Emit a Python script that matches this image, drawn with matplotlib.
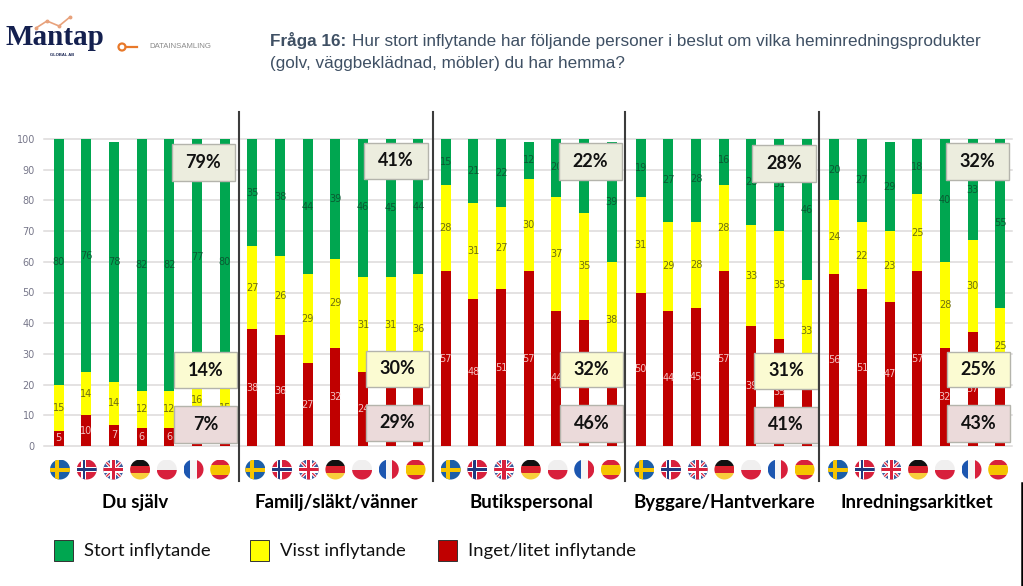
import matplotlib
matplotlib.use("Agg")
import matplotlib.pyplot as plt
from matplotlib.patches import Circle, Rectangle

W, H = 1023, 586

groups = ["Du själv", "Familj/släkt/vänner", "Butikspersonal", "Byggare/Hantverkare", "Inredningsarkitket"]
countries = ["se", "no", "gb", "de", "pl", "fr", "es"]
series_names = ["Stort inflytande", "Visst inflytande", "Inget/litet inflytande"]

stort = [
    [80, 76, 78, 82, 82, 77, 80],
    [35, 38, 44, 39, 46, 45, 44],
    [15, 21, 22, 12, 20, 24, 39],
    [19, 27, 28, 16, 28, 31, 46],
    [20, 27, 29, 18, 40, 33, 55],
]
visst = [
    [15, 14, 14, 12, 12, 16, 15],
    [27, 26, 29, 29, 31, 31, 36],
    [28, 31, 27, 30, 37, 35, 38],
    [31, 29, 28, 28, 33, 35, 33],
    [24, 22, 23, 25, 28, 30, 25],
]
inget = [
    [5, 10, 7, 6, 6, 7, 5],
    [38, 36, 27, 32, 24, 24, 20],
    [57, 48, 51, 57, 44, 41, 22],
    [50, 44, 45, 57, 39, 35, 21],
    [56, 51, 47, 57, 32, 37, 20],
]
avg_stort = ["79%", "41%", "22%", "28%", "32%"]
avg_visst = ["14%", "30%", "32%", "31%", "25%"]
avg_inget = ["7%", "29%", "46%", "41%", "43%"]

GREEN, YELLOW, RED = "#00a650", "#ffff00", "#c00000"

# pixel layout
panel_edges = [44, 239, 433, 625, 819, 1012]
first_bar = [58.7, 252.3, 445.7, 640.7, 834.3]
first_flag = [60, 255.3, 450.7, 644.3, 838]
label_x = [135, 336, 531, 724, 917]
bar_step = 27.67
flag_step = 26.7
y100, y0 = 139, 446
box_x = [(172, 235, 174, 237), (364, 428, 366, 429), (559, 622, 560, 623),
         (752, 816, 754, 818), (946, 1009, 947, 1010)]
box_y = [(144, 181, 352, 388, 406, 443), (143, 179, 351, 387, 405, 441), (143, 180, 352, 387, 405, 442),
         (145, 182, 353, 389, 407, 443), (143, 180, 352, 387, 405, 442)]


def covered(g, i, value):
    # labels that sit behind the summary boxes are not visible in the chart
    px = first_bar[g] + i * bar_step
    py = y0 - value * (y0 - y100) / 100
    xa, xb, xc, xd = box_x[g]
    ya, yb, yc, yd, ye, yf = box_y[g]
    if xa < px < xb and ya + 3 < py < yb - 3:
        return True
    if xc < px < xd and (yc + 3 < py < yd - 3 or ye + 3 < py < yf - 3):
        return True
    return False


fig = plt.figure(figsize=(W / 100, H / 100), dpi=100)

for g in range(5):
    left, right = panel_edges[g], panel_edges[g + 1]
    ax = fig.add_axes([left / W, 1 - y0 / H, (right - left) / W, (y0 - y100) / H])
    ax.set_xlim((left - first_bar[g]) / bar_step, (right - first_bar[g]) / bar_step)
    ax.set_ylim(0, 100)
    for s in ax.spines.values():
        s.set_visible(False)
    ax.set_xticks([])
    ax.set_yticks(range(0, 101, 10))
    ax.grid(axis="y", color="#dcdada", lw=1.1)
    ax.set_axisbelow(True)
    for line in ax.get_ygridlines():
        line.set_clip_on(False)
    ax.tick_params(axis="y", length=0, pad=6.5, labelsize=7, labelcolor="#77778a")
    if g > 0:
        ax.tick_params(axis="y", labelleft=False)

    xs = range(7)
    ax.bar(xs, inget[g], width=0.37, color=RED)
    ax.bar(xs, visst[g], width=0.37, bottom=inget[g], color=YELLOW)
    bottoms = [a + b for a, b in zip(inget[g], visst[g])]
    ax.bar(xs, stort[g], width=0.37, bottom=bottoms, color=GREEN)
    for i in xs:
        mids = [inget[g][i] / 2, inget[g][i] + visst[g][i] / 2, bottoms[i] + stort[g][i] / 2]
        vals = [inget[g][i], visst[g][i], stort[g][i]]
        cols = ["#f3c4c4", "#6f6f10", "#0b5a33"]
        for m, v, c in zip(mids, vals, cols):
            if not covered(g, i, m):
                ax.text(i, m, str(v), ha="center", va="center", fontsize=7, color=c)

# everything else sits on a pixel-coordinate overlay
ov = fig.add_axes([0, 0, 1, 1], zorder=10)
ov.set_xlim(0, W)
ov.set_ylim(H, 0)
ov.axis("off")
ov.patch.set_alpha(0)


def flag(cx, cy, r, code):
    clip = Circle((cx, cy), r, transform=ov.transData)
    parts = []

    def rect(x0, y0, x1, y1, col):
        parts.append(Rectangle((cx + x0 * r, cy + y0 * r), (x1 - x0) * r, (y1 - y0) * r, fc=col, ec="none"))

    if code == "se":
        rect(-1, -1, 1, 1, "#1c5fa8")
        rect(-0.5, -1, -0.12, 1, "#f5c400")
        rect(-1, -0.2, 1, 0.2, "#f5c400")
    elif code == "no":
        rect(-1, -1, 1, 1, "#d8203c")
        rect(-0.55, -1, -0.05, 1, "white")
        rect(-1, -0.25, 1, 0.25, "white")
        rect(-0.42, -1, -0.18, 1, "#20397f")
        rect(-1, -0.12, 1, 0.12, "#20397f")
    elif code == "gb":
        rect(-1, -1, 1, 1, "#3d5a9c")
        for sign in (1, -1):
            ov.plot([cx - r, cx + r], [cy - sign * r, cy + sign * r], color="white", lw=2.4,
                    clip_path=clip, zorder=4)
            ov.plot([cx - r, cx + r], [cy - sign * r, cy + sign * r], color="#d8203c", lw=0.9,
                    clip_path=clip, zorder=4)
        cross = [
            Rectangle((cx - 0.3 * r, cy - r), 0.6 * r, 2 * r, fc="white", ec="none", zorder=5),
            Rectangle((cx - r, cy - 0.3 * r), 2 * r, 0.6 * r, fc="white", ec="none", zorder=5),
            Rectangle((cx - 0.16 * r, cy - r), 0.32 * r, 2 * r, fc="#d8203c", ec="none", zorder=6),
            Rectangle((cx - r, cy - 0.16 * r), 2 * r, 0.32 * r, fc="#d8203c", ec="none", zorder=6),
        ]
        for p in cross:
            ov.add_patch(p)
            p.set_clip_path(clip)
    elif code == "de":
        rect(-1, -1, 1, -0.33, "#111111")
        rect(-1, -0.33, 1, 0.33, "#d8202c")
        rect(-1, 0.33, 1, 1, "#f7cf3c")
    elif code == "pl":
        rect(-1, -1, 1, 0, "#f0efef")
        rect(-1, 0, 1, 1, "#d8203c")
    elif code == "fr":
        rect(-1, -1, -0.33, 1, "#1c56b0")
        rect(-0.33, -1, 0.33, 1, "#f6f6f6")
        rect(0.33, -1, 1, 1, "#d8203c")
    elif code == "es":
        rect(-1, -1, 1, -0.5, "#d8203c")
        rect(-1, -0.5, 1, 0.5, "#f5c400")
        rect(-1, 0.5, 1, 1, "#d8203c")
    for p in parts:
        p.set_zorder(3)
        ov.add_patch(p)
        p.set_clip_path(clip)


def box(x0, x1, y0, y1, col, txt):
    ov.add_patch(Rectangle((x0, y0), x1 - x0, y1 - y0, fc=col, ec="#b4b4ac", lw=1.0, zorder=7))
    ov.text((x0 + x1) / 2, (y0 + y1) / 2, txt, ha="center", va="center", fontsize=13,
            family="Lato", fontweight="bold", color="#111111", zorder=8)


for g in range(5):
    for i, code in enumerate(countries):
        flag(first_flag[g] + i * flag_step, 469.5, 10, code)
    xa, xb, xc, xd = box_x[g]
    ya, yb, yc, yd, ye, yf = box_y[g]
    box(xa, xb, ya, yb, "#ecedde", avg_stort[g])
    box(xc, xd, yc, yd, "#fbfbd2", avg_visst[g])
    box(xc, xd, ye, yf, "#ebdada", avg_inget[g])
    ov.text(label_x[g], 502.5, groups[g], ha="center", va="center", fontsize=13.4, family="Lato",
            fontweight="bold", color="black")

# panel dividers and the stray line bottom right
for x in panel_edges[1:5]:
    ov.plot([x, x], [112, 481], color="#3c3c3c", lw=1.5, zorder=9)
ov.plot([1021.5, 1021.5], [483, 586], color="black", lw=1.8, zorder=9)

# legend
legend_sq = [54, 250, 438]
legend_tx = [84, 280, 468]
for name, col, sx, tx in zip(series_names, [GREEN, YELLOW, RED], legend_sq, legend_tx):
    ov.add_patch(Rectangle((sx, 540), 19, 21, fc=col, ec="#333333", lw=0.7))
    ov.text(tx, 551, name, ha="left", va="center", fontsize=13.3, family="Lato", color="#111111")

# header
TITLE = "#3f5064"
ov.text(270, 46, "Fråga 16:", ha="left", va="baseline", fontsize=12.3, family="Liberation Sans",
        fontweight="bold", color=TITLE)
ov.text(352, 46, "Hur stort inflytande har följande personer i beslut om vilka heminredningsprodukter",
        ha="left", va="baseline", fontsize=12.3, family="Liberation Sans", color=TITLE)
ov.text(270, 68, "(golv, väggbeklädnad, möbler) du har hemma?", ha="left", va="baseline", fontsize=12.3,
        family="Liberation Sans", color=TITLE)

# logo
ov.text(5, 45, "Mantap", ha="left", va="baseline", fontsize=21, family="Liberation Serif", fontweight="bold",
        color="#14204f")
ov.text(62, 55, "GLOBAL AB", ha="center", va="center", fontsize=3, family="Liberation Sans", fontweight="bold",
        color="#14204f")
ov.plot([36, 47, 59, 70], [28, 21, 26, 17], color="#e8a27c", lw=1.2, marker="o", ms=1.8)
ov.add_patch(Circle((122, 47), 3.5, fc="white", ec="#e8792a", lw=1.6))
ov.plot([126, 137], [47, 47], color="#e8792a", lw=1.6)
ov.text(149, 47, "DATAINSAMLING", ha="left", va="center", fontsize=5.6, family="Liberation Sans", color="#8a8a8a")

fig.savefig("out.png", dpi=100)
